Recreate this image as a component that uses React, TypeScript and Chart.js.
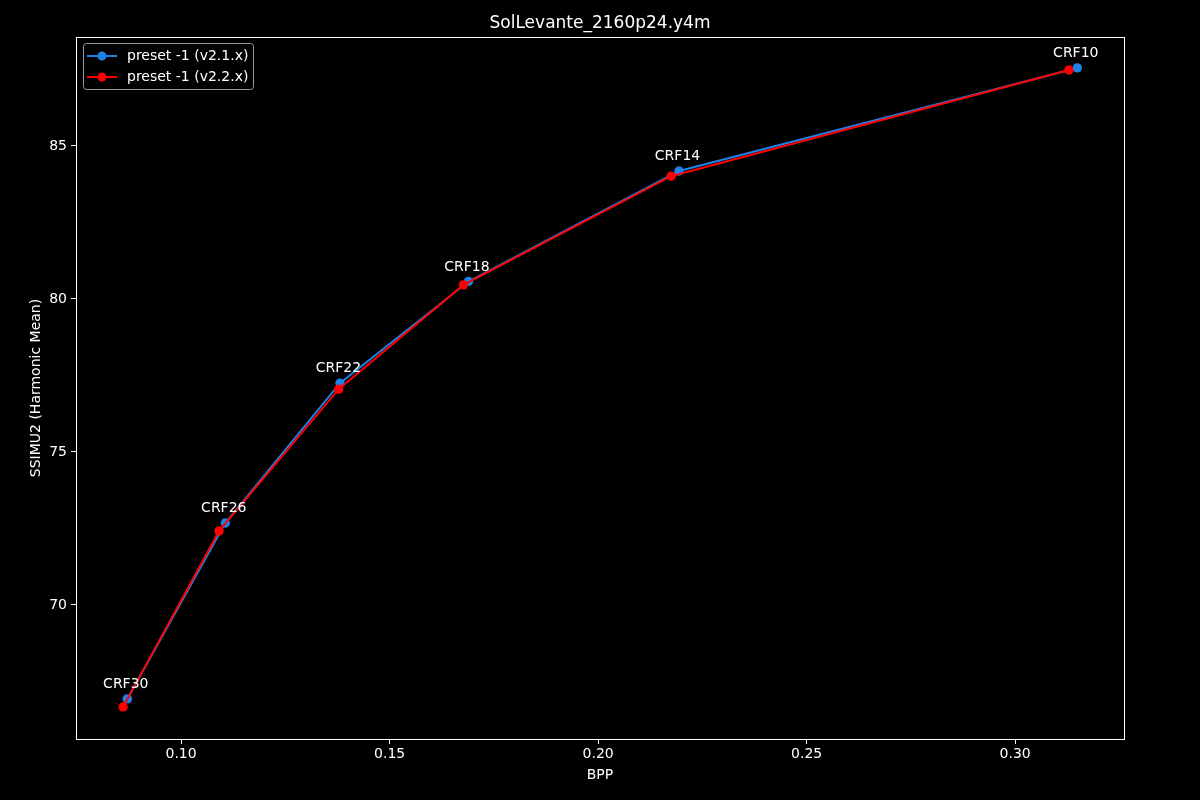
import React, { useEffect, useRef } from "react";
import { Chart, registerables } from "chart.js";

Chart.register(...registerables);

const crfLabels = ["CRF30", "CRF26", "CRF22", "CRF18", "CRF14", "CRF10"];
const bppV21 = [0.0871, 0.1106, 0.1381, 0.1689, 0.2194, 0.3149];
const ssimuV21 = [66.93, 72.68, 77.25, 80.57, 84.18, 87.55];
const bppV22 = [0.0861, 0.1091, 0.1378, 0.1677, 0.2175, 0.3129];
const ssimuV22 = [66.67, 72.42, 77.05, 80.46, 84.01, 87.48];
const xTicks = [0.1, 0.15, 0.2, 0.25, 0.3];
const yTicks = [70, 75, 80, 85];
const seriesNames = ["preset -1 (v2.1.x)", "preset -1 (v2.2.x)"];
const chartTitle = "SolLevante_2160p24.y4m";

const BLUE = "#1f82e8";
const RED = "#ff0000";
const FONT = "'DejaVu Sans', sans-serif";

export default function App() {
  const ref = useRef<HTMLCanvasElement>(null);
  useEffect(() => {
    const canvas = ref.current!;
    const extras = {
      id: "extras",
      beforeDraw(chart: any) {
        const ctx = chart.ctx;
        ctx.save();
        ctx.fillStyle = "#000";
        ctx.fillRect(0, 0, chart.width, chart.height);
        ctx.restore();
      },
      afterDatasetsDraw(chart: any) {
        const ctx = chart.ctx;
        const { left, right, top, bottom } = chart.chartArea;
        const xs = chart.scales.x;
        const ys = chart.scales.y;
        ctx.save();
        // frame
        ctx.strokeStyle = "#fff";
        ctx.lineWidth = 1;
        ctx.strokeRect(Math.round(left) + 0.5, Math.round(top) + 0.5, Math.round(right - left), Math.round(bottom - top));
        // title
        ctx.fillStyle = "#fff";
        ctx.font = `17px ${FONT}`;
        ctx.textAlign = "center";
        ctx.textBaseline = "middle";
        ctx.fillText(chartTitle, (left + right) / 2, 23.5);
        // annotations
        ctx.font = `14px ${FONT}`;
        ctx.textBaseline = "alphabetic";
        crfLabels.forEach((lab, i) => {
          const px = xs.getPixelForValue(bppV21[i]);
          const py = ys.getPixelForValue(ssimuV21[i]);
          ctx.fillText(lab, px - 1.5, py - 11);
        });
        // legend
        const lx = left + 7, ly = top + 6, lw = 170, lh = 46;
        ctx.fillStyle = "rgba(0,0,0,0.8)";
        ctx.strokeStyle = "#999";
        ctx.lineWidth = 1;
        ctx.beginPath();
        (ctx as any).roundRect(lx + 0.5, ly + 0.5, lw, lh, 3);
        ctx.fill();
        ctx.stroke();
        const cols = [BLUE, RED];
        seriesNames.forEach((nm, i) => {
          const yy = ly + 13 + i * 21;
          ctx.strokeStyle = cols[i];
          ctx.lineWidth = 2;
          ctx.beginPath();
          ctx.moveTo(lx + 4, yy);
          ctx.lineTo(lx + 34, yy);
          ctx.stroke();
          ctx.fillStyle = cols[i];
          ctx.beginPath();
          ctx.arc(lx + 19, yy, 4.5, 0, Math.PI * 2);
          ctx.fill();
          ctx.fillStyle = "#fff";
          ctx.font = `14px ${FONT}`;
          ctx.textAlign = "left";
          ctx.textBaseline = "middle";
          ctx.fillText(nm, lx + 44, yy);
        });
        ctx.restore();
      },
    };
    const chart = new Chart(canvas, {
      type: "line",
      data: {
        datasets: [
          {
            label: seriesNames[0],
            data: bppV21.map((x, i) => ({ x, y: ssimuV21[i] })),
            borderColor: BLUE,
            backgroundColor: BLUE,
            borderWidth: 2,
            pointRadius: 4.7,
            pointBorderWidth: 0,
            tension: 0,
            order: 2,
          },
          {
            label: seriesNames[1],
            data: bppV22.map((x, i) => ({ x, y: ssimuV22[i] })),
            borderColor: RED,
            backgroundColor: RED,
            borderWidth: 2,
            pointRadius: 4.7,
            pointBorderWidth: 0,
            tension: 0,
            order: 1,
          },
        ],
      },
      options: {
        responsive: false,
        animation: false,
        layout: { padding: { top: 37, left: 24, right: 76, bottom: 14 } },
        plugins: { legend: { display: false }, title: { display: false }, tooltip: { enabled: false } },
        scales: {
          x: {
            type: "linear",
            min: 0.0748,
            max: 0.3261,
            afterFit: (s: any) => { s.height = 47; },
            afterBuildTicks: (s: any) => { s.ticks = xTicks.map((v) => ({ value: v })); },
            ticks: {
              color: "#fff",
              font: { family: FONT, size: 14 },
              padding: 2,
              maxRotation: 0,
              callback: (v: any) => Number(v).toFixed(2),
            },
            grid: { drawOnChartArea: false, drawTicks: true, tickLength: 5, color: "#fff" },
            border: { display: true, color: "#fff" },
            title: { display: true, text: "BPP", color: "#fff", font: { family: FONT, size: 14 }, padding: { top: 0, bottom: 2 } },
          },
          y: {
            type: "linear",
            min: 65.62,
            max: 88.56,
            afterFit: (s: any) => { s.width = 52; },
            afterBuildTicks: (s: any) => { s.ticks = yTicks.map((v) => ({ value: v })); },
            ticks: {
              color: "#fff",
              font: { family: FONT, size: 14 },
              padding: 4,
              callback: (v: any) => String(v),
            },
            grid: { drawOnChartArea: false, drawTicks: true, tickLength: 5, color: "#fff" },
            border: { display: true, color: "#fff" },
            title: { display: true, text: "SSIMU2 (Harmonic Mean)", color: "#fff", font: { family: FONT, size: 14 }, padding: { top: 4, bottom: 0 } },
          },
        },
      },
      plugins: [extras],
    } as any);
    return () => chart.destroy();
  }, []);
  return (
    <div style={{ position: "absolute", left: 0, top: 0, width: 1200, height: 800, background: "#000" }}>
      <canvas ref={ref} width={1200} height={800} />
    </div>
  );
}
